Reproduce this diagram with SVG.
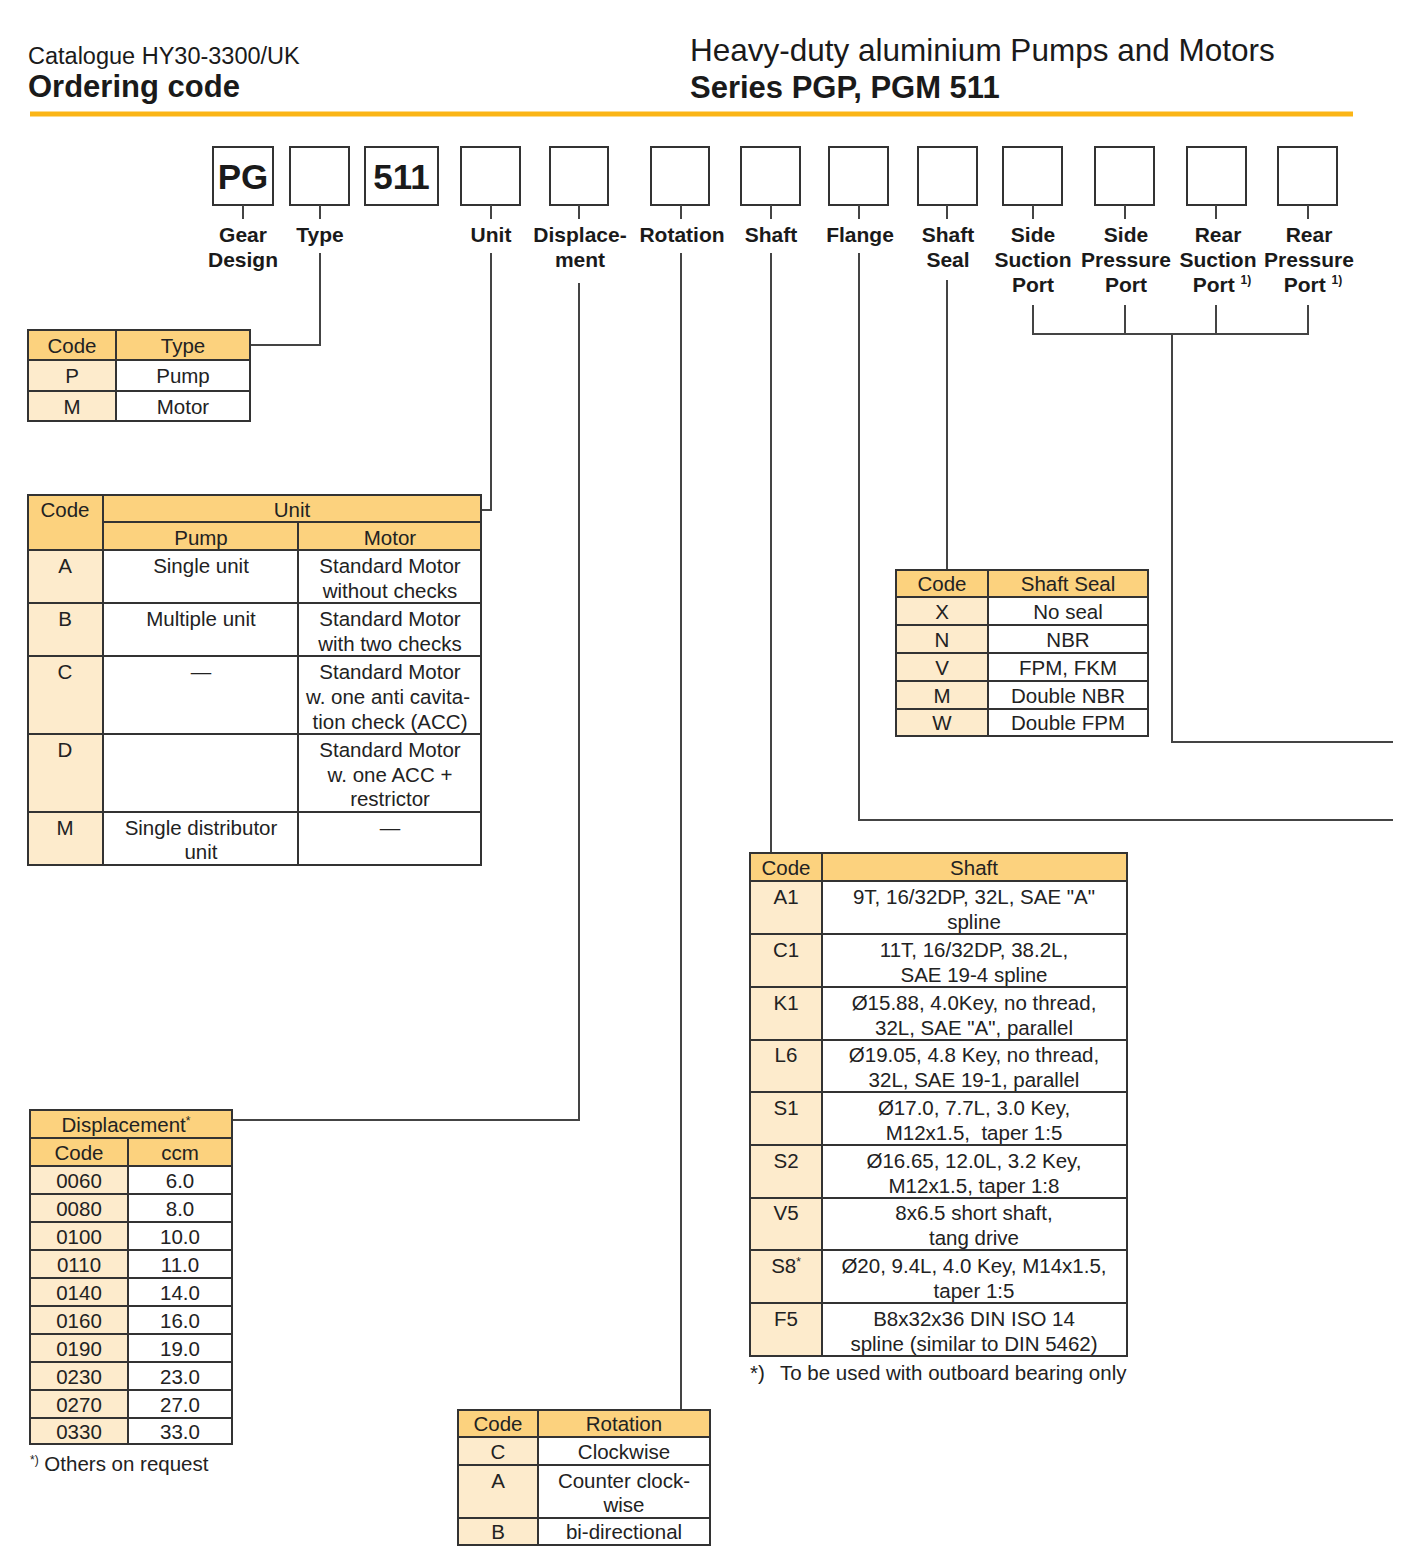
<svg xmlns="http://www.w3.org/2000/svg" width="1421" height="1560" viewBox="0 0 1421 1560">
<style>
text{font-family:"Liberation Sans",Arial,sans-serif;fill:#1a1a1a}
.h1{font-size:23.5px}
.h2{font-size:31px;font-weight:bold}
.h3{font-size:31.5px}
.lbl{font-size:21px;font-weight:bold;text-anchor:middle}
.big{font-size:35px;font-weight:bold;text-anchor:middle}
.t{font-size:20.5px;text-anchor:middle;fill:#222}
.fn{font-size:20.5px;fill:#222}
.sup{font-size:12px}
.box{fill:#fff;stroke:#333;stroke-width:2}
.hd{fill:#fcd27e;stroke:#333;stroke-width:2}
.cd{fill:#fdebcc;stroke:#333;stroke-width:2}
.cl{fill:#fff;stroke:#333;stroke-width:2}
.ln{fill:none;stroke:#444;stroke-width:2}
</style>

<g id="header">
<text class="h1" x="28" y="64">Catalogue HY30-3300/UK</text>
<text class="h2" x="28" y="97">Ordering code</text>
<text class="h3" x="690" y="61">Heavy-duty aluminium Pumps and Motors</text>
<text class="h2" x="690" y="98">Series PGP, PGM 511</text>
<line x1="30" y1="114" x2="1353" y2="114" stroke="#fbb516" stroke-width="5"/>
</g>

<g id="code-boxes">
<g id="box-pg"><rect class="box" x="213" y="147" width="60" height="58"/><text class="big" x="243" y="189">PG</text><line class="ln" x1="243" y1="205" x2="243" y2="219"/><text class="lbl" x="243" y="242">Gear</text><text class="lbl" x="243" y="267">Design</text></g>
<g id="box-type"><rect class="box" x="290" y="147" width="59" height="58"/><line class="ln" x1="320" y1="205" x2="320" y2="219"/><text class="lbl" x="320" y="242">Type</text></g>
<g id="box-511"><rect class="box" x="365" y="147" width="73" height="58"/><text class="big" x="401.5" y="189">511</text></g>
<g id="box-unit"><rect class="box" x="461" y="147" width="59" height="58"/><line class="ln" x1="491" y1="205" x2="491" y2="219"/><text class="lbl" x="491" y="242">Unit</text></g>
<g id="box-disp"><rect class="box" x="550" y="147" width="58" height="58"/><line class="ln" x1="579" y1="205" x2="579" y2="219"/><text class="lbl" x="580" y="242">Displace-</text><text class="lbl" x="580" y="267">ment</text></g>
<g id="box-rot"><rect class="box" x="651" y="147" width="58" height="58"/><line class="ln" x1="681" y1="205" x2="681" y2="219"/><text class="lbl" x="682" y="242">Rotation</text></g>
<g id="box-shaft"><rect class="box" x="741" y="147" width="59" height="58"/><line class="ln" x1="771" y1="205" x2="771" y2="219"/><text class="lbl" x="771" y="242">Shaft</text></g>
<g id="box-flange"><rect class="box" x="829" y="147" width="59" height="58"/><line class="ln" x1="859" y1="205" x2="859" y2="219"/><text class="lbl" x="860" y="242">Flange</text></g>
<g id="box-seal"><rect class="box" x="918" y="147" width="59" height="58"/><line class="ln" x1="947" y1="205" x2="947" y2="219"/><text class="lbl" x="948" y="242">Shaft</text><text class="lbl" x="948" y="267">Seal</text></g>
<g id="box-ssp"><rect class="box" x="1003" y="147" width="59" height="58"/><line class="ln" x1="1033" y1="205" x2="1033" y2="219"/><text class="lbl" x="1033" y="242">Side</text><text class="lbl" x="1033" y="267">Suction</text><text class="lbl" x="1033" y="292">Port</text></g>
<g id="box-spp"><rect class="box" x="1095" y="147" width="59" height="58"/><line class="ln" x1="1125" y1="205" x2="1125" y2="219"/><text class="lbl" x="1126" y="242">Side</text><text class="lbl" x="1126" y="267">Pressure</text><text class="lbl" x="1126" y="292">Port</text></g>
<g id="box-rsp"><rect class="box" x="1187" y="147" width="59" height="58"/><line class="ln" x1="1216" y1="205" x2="1216" y2="219"/><text class="lbl" x="1218" y="242">Rear</text><text class="lbl" x="1218" y="267">Suction</text><text class="lbl" x="1222" y="292">Port <tspan class="sup" dy="-8">1)</tspan></text></g>
<g id="box-rpp"><rect class="box" x="1278" y="147" width="59" height="58"/><line class="ln" x1="1308" y1="205" x2="1308" y2="219"/><text class="lbl" x="1309" y="242">Rear</text><text class="lbl" x="1309" y="267">Pressure</text><text class="lbl" x="1313" y="292">Port <tspan class="sup" dy="-8">1)</tspan></text></g>
</g>

<g id="connectors">
<polyline class="ln" points="320,253 320,345 250,345"/>
<polyline class="ln" points="491,253 491,510 481,510"/>
<polyline class="ln" points="579,283 579,1120 232,1120"/>
<polyline class="ln" points="681,253 681,1410"/>
<polyline class="ln" points="771,253 771,853"/>
<polyline class="ln" points="859,253 859,820 1393,820"/>
<polyline class="ln" points="947,280 947,570"/>
<polyline class="ln" points="1033,305 1033,334 1308,334 1308,305"/>
<line class="ln" x1="1125" y1="305" x2="1125" y2="334"/>
<line class="ln" x1="1216" y1="305" x2="1216" y2="334"/>
<polyline class="ln" points="1172,334 1172,742 1393,742"/>
</g>

<g id="table-type">
<rect class="hd" x="28" y="330" width="88" height="30"/><rect class="hd" x="116" y="330" width="134" height="30"/>
<rect class="cd" x="28" y="360" width="88" height="31"/><rect class="cl" x="116" y="360" width="134" height="31"/>
<rect class="cd" x="28" y="391" width="88" height="30"/><rect class="cl" x="116" y="391" width="134" height="30"/>
<text class="t" x="72" y="353">Code</text><text class="t" x="183" y="353">Type</text>
<text class="t" x="72" y="383">P</text><text class="t" x="183" y="383">Pump</text>
<text class="t" x="72" y="414">M</text><text class="t" x="183" y="414">Motor</text>
</g>

<g id="table-unit">
<rect class="hd" x="28" y="495" width="75" height="55"/>
<rect class="hd" x="103" y="495" width="378" height="27"/>
<rect class="hd" x="103" y="522" width="195" height="28"/><rect class="hd" x="298" y="522" width="183" height="28"/>
<text class="t" x="65" y="517">Code</text><text class="t" x="292" y="517">Unit</text>
<text class="t" x="201" y="545">Pump</text><text class="t" x="390" y="545">Motor</text>
<rect class="cd" x="28" y="550" width="75" height="53"/><rect class="cl" x="103" y="550" width="195" height="53"/><rect class="cl" x="298" y="550" width="183" height="53"/>
<rect class="cd" x="28" y="603" width="75" height="53"/><rect class="cl" x="103" y="603" width="195" height="53"/><rect class="cl" x="298" y="603" width="183" height="53"/>
<rect class="cd" x="28" y="656" width="75" height="78"/><rect class="cl" x="103" y="656" width="195" height="78"/><rect class="cl" x="298" y="656" width="183" height="78"/>
<rect class="cd" x="28" y="734" width="75" height="78"/><rect class="cl" x="103" y="734" width="195" height="78"/><rect class="cl" x="298" y="734" width="183" height="78"/>
<rect class="cd" x="28" y="812" width="75" height="53"/><rect class="cl" x="103" y="812" width="195" height="53"/><rect class="cl" x="298" y="812" width="183" height="53"/>
<text class="t" x="65" y="573">A</text><text class="t" x="201" y="573">Single unit</text><text class="t" x="390" y="573">Standard Motor</text><text class="t" x="390" y="598">without checks</text>
<text class="t" x="65" y="626">B</text><text class="t" x="201" y="626">Multiple unit</text><text class="t" x="390" y="626">Standard Motor</text><text class="t" x="390" y="651">with two checks</text>
<text class="t" x="65" y="679">C</text><text class="t" x="201" y="679">—</text><text class="t" x="390" y="679">Standard Motor</text><text class="t" x="388" y="704">w. one anti cavita-</text><text class="t" x="390" y="729">tion check (ACC)</text>
<text class="t" x="65" y="757">D</text><text class="t" x="390" y="757">Standard Motor</text><text class="t" x="390" y="782">w. one ACC +</text><text class="t" x="390" y="806">restrictor</text>
<text class="t" x="65" y="835">M</text><text class="t" x="201" y="835">Single distributor</text><text class="t" x="201" y="859">unit</text><text class="t" x="390" y="835">—</text>
</g>

<g id="table-seal">
<rect class="hd" x="896" y="570" width="92" height="27"/><rect class="hd" x="988" y="570" width="160" height="27"/>
<text class="t" x="942" y="591">Code</text><text class="t" x="1068" y="591">Shaft Seal</text>
<rect class="cd" x="896" y="597" width="92" height="28"/><rect class="cl" x="988" y="597" width="160" height="28"/>
<rect class="cd" x="896" y="625" width="92" height="28"/><rect class="cl" x="988" y="625" width="160" height="28"/>
<rect class="cd" x="896" y="653" width="92" height="28"/><rect class="cl" x="988" y="653" width="160" height="28"/>
<rect class="cd" x="896" y="681" width="92" height="28"/><rect class="cl" x="988" y="681" width="160" height="28"/>
<rect class="cd" x="896" y="709" width="92" height="27"/><rect class="cl" x="988" y="709" width="160" height="27"/>
<text class="t" x="942" y="619">X</text><text class="t" x="1068" y="619">No seal</text>
<text class="t" x="942" y="647">N</text><text class="t" x="1068" y="647">NBR</text>
<text class="t" x="942" y="675">V</text><text class="t" x="1068" y="675">FPM, FKM</text>
<text class="t" x="942" y="703">M</text><text class="t" x="1068" y="703">Double NBR</text>
<text class="t" x="942" y="730">W</text><text class="t" x="1068" y="730">Double FPM</text>
</g>

<g id="table-shaft">
<rect class="hd" x="750" y="853" width="72" height="28"/><rect class="hd" x="822" y="853" width="305" height="28"/>
<text class="t" x="786" y="875">Code</text><text class="t" x="974" y="875">Shaft</text>
<rect class="cd" x="750" y="881" width="72" height="53"/><rect class="cl" x="822" y="881" width="305" height="53"/>
<rect class="cd" x="750" y="934" width="72" height="53"/><rect class="cl" x="822" y="934" width="305" height="53"/>
<rect class="cd" x="750" y="987" width="72" height="53"/><rect class="cl" x="822" y="987" width="305" height="53"/>
<rect class="cd" x="750" y="1040" width="72" height="52"/><rect class="cl" x="822" y="1040" width="305" height="52"/>
<rect class="cd" x="750" y="1092" width="72" height="53"/><rect class="cl" x="822" y="1092" width="305" height="53"/>
<rect class="cd" x="750" y="1145" width="72" height="53"/><rect class="cl" x="822" y="1145" width="305" height="53"/>
<rect class="cd" x="750" y="1198" width="72" height="52"/><rect class="cl" x="822" y="1198" width="305" height="52"/>
<rect class="cd" x="750" y="1250" width="72" height="53"/><rect class="cl" x="822" y="1250" width="305" height="53"/>
<rect class="cd" x="750" y="1303" width="72" height="53"/><rect class="cl" x="822" y="1303" width="305" height="53"/>
<text class="t" x="786" y="904">A1</text><text class="t" x="974" y="904">9T, 16/32DP, 32L, SAE "A"</text><text class="t" x="974" y="929">spline</text>
<text class="t" x="786" y="957">C1</text><text class="t" x="974" y="957">11T, 16/32DP, 38.2L,</text><text class="t" x="974" y="982">SAE 19-4 spline</text>
<text class="t" x="786" y="1010">K1</text><text class="t" x="974" y="1010">Ø15.88, 4.0Key, no thread,</text><text class="t" x="974" y="1035">32L, SAE "A", parallel</text>
<text class="t" x="786" y="1062">L6</text><text class="t" x="974" y="1062">Ø19.05, 4.8 Key, no thread,</text><text class="t" x="974" y="1087">32L, SAE 19-1, parallel</text>
<text class="t" x="786" y="1115">S1</text><text class="t" x="974" y="1115">Ø17.0, 7.7L, 3.0 Key,</text><text class="t" x="974" y="1140" xml:space="preserve">M12x1.5,  taper 1:5</text>
<text class="t" x="786" y="1168">S2</text><text class="t" x="974" y="1168">Ø16.65, 12.0L, 3.2 Key,</text><text class="t" x="974" y="1193">M12x1.5, taper 1:8</text>
<text class="t" x="786" y="1220">V5</text><text class="t" x="974" y="1220">8x6.5 short shaft,</text><text class="t" x="974" y="1245">tang drive</text>
<text class="t" x="786" y="1273">S8<tspan class="sup" dy="-7">*</tspan></text><text class="t" x="974" y="1273">Ø20, 9.4L, 4.0 Key, M14x1.5,</text><text class="t" x="974" y="1298">taper 1:5</text>
<text class="t" x="786" y="1326">F5</text><text class="t" x="974" y="1326">B8x32x36 DIN ISO 14</text><text class="t" x="974" y="1351">spline (similar to DIN 5462)</text>
<text class="fn" x="750" y="1380">*)<tspan x="780">To be used with outboard bearing only</tspan></text>
</g>

<g id="table-displacement">
<rect class="hd" x="30" y="1110" width="202" height="28"/>
<rect class="hd" x="30" y="1138" width="98" height="28"/><rect class="hd" x="128" y="1138" width="104" height="28"/>
<text class="t" x="126" y="1132">Displacement<tspan class="sup" dy="-7">*</tspan></text>
<text class="t" x="79" y="1160">Code</text><text class="t" x="180" y="1160">ccm</text>
<rect class="cd" x="30" y="1166" width="98" height="28"/><rect class="cl" x="128" y="1166" width="104" height="28"/>
<rect class="cd" x="30" y="1194" width="98" height="28"/><rect class="cl" x="128" y="1194" width="104" height="28"/>
<rect class="cd" x="30" y="1222" width="98" height="28"/><rect class="cl" x="128" y="1222" width="104" height="28"/>
<rect class="cd" x="30" y="1250" width="98" height="28"/><rect class="cl" x="128" y="1250" width="104" height="28"/>
<rect class="cd" x="30" y="1278" width="98" height="28"/><rect class="cl" x="128" y="1278" width="104" height="28"/>
<rect class="cd" x="30" y="1306" width="98" height="28"/><rect class="cl" x="128" y="1306" width="104" height="28"/>
<rect class="cd" x="30" y="1334" width="98" height="28"/><rect class="cl" x="128" y="1334" width="104" height="28"/>
<rect class="cd" x="30" y="1362" width="98" height="28"/><rect class="cl" x="128" y="1362" width="104" height="28"/>
<rect class="cd" x="30" y="1390" width="98" height="28"/><rect class="cl" x="128" y="1390" width="104" height="28"/>
<rect class="cd" x="30" y="1418" width="98" height="26"/><rect class="cl" x="128" y="1418" width="104" height="26"/>
<text class="t" x="79" y="1188">0060</text><text class="t" x="180" y="1188">6.0</text>
<text class="t" x="79" y="1216">0080</text><text class="t" x="180" y="1216">8.0</text>
<text class="t" x="79" y="1244">0100</text><text class="t" x="180" y="1244">10.0</text>
<text class="t" x="79" y="1272">0110</text><text class="t" x="180" y="1272">11.0</text>
<text class="t" x="79" y="1300">0140</text><text class="t" x="180" y="1300">14.0</text>
<text class="t" x="79" y="1328">0160</text><text class="t" x="180" y="1328">16.0</text>
<text class="t" x="79" y="1356">0190</text><text class="t" x="180" y="1356">19.0</text>
<text class="t" x="79" y="1384">0230</text><text class="t" x="180" y="1384">23.0</text>
<text class="t" x="79" y="1412">0270</text><text class="t" x="180" y="1412">27.0</text>
<text class="t" x="79" y="1439">0330</text><text class="t" x="180" y="1439">33.0</text>
<text class="fn" x="30" y="1471"><tspan class="sup" dy="-7">*)</tspan><tspan dy="7"> Others on request</tspan></text>
</g>

<g id="table-rotation">
<rect class="hd" x="458" y="1410" width="80" height="27"/><rect class="hd" x="538" y="1410" width="172" height="27"/>
<text class="t" x="498" y="1431">Code</text><text class="t" x="624" y="1431">Rotation</text>
<rect class="cd" x="458" y="1437" width="80" height="28"/><rect class="cl" x="538" y="1437" width="172" height="28"/>
<rect class="cd" x="458" y="1465" width="80" height="53"/><rect class="cl" x="538" y="1465" width="172" height="53"/>
<rect class="cd" x="458" y="1518" width="80" height="27"/><rect class="cl" x="538" y="1518" width="172" height="27"/>
<text class="t" x="498" y="1459">C</text><text class="t" x="624" y="1459">Clockwise</text>
<text class="t" x="498" y="1488">A</text><text class="t" x="624" y="1488">Counter clock-</text><text class="t" x="624" y="1512">wise</text>
<text class="t" x="498" y="1539">B</text><text class="t" x="624" y="1539">bi-directional</text>
</g>
</svg>
